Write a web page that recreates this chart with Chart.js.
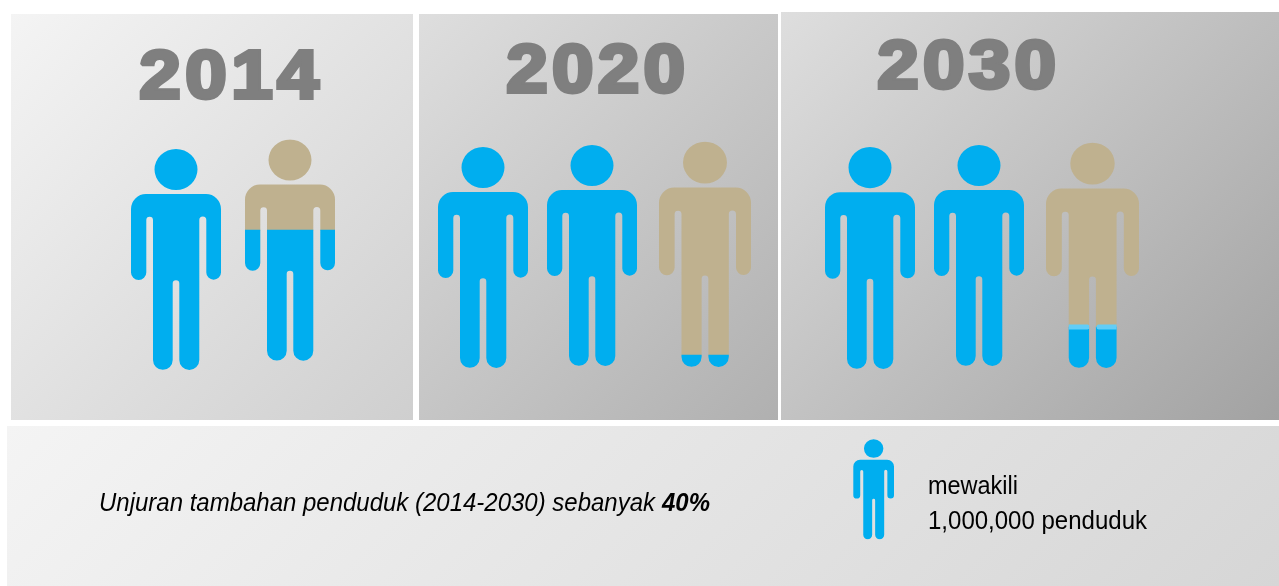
<!DOCTYPE html>
<html lang="id">
<head>
<meta charset="utf-8">
<title>Unjuran penduduk 2014-2030</title>
<style>html,body{margin:0;padding:0;background:#fff}canvas{display:block;filter:blur(0.35px)}</style>
<script src="https://cdn.jsdelivr.net/npm/chart.js@4"></script>
</head>
<body>
<canvas id="c" width="1279" height="586"></canvas>
<script>
// ---- data ----
const categories = ['2014', '2020', '2030'];
const figureLabels = ['2014 a', '2014 b', '2020 a', '2020 b', '2020 c', '2030 a', '2030 b', '2030 c', 'skala'];
const filledShare = [1, 0.59, 1, 1, 0.053, 1, 1, 0.182, 1];
const emptyShare = [0, 0.41, 0, 0, 0.947, 0, 0, 0.818, 0];
const noteText = 'Unjuran tambahan penduduk (2014-2030) sebanyak';
const noteValue = '40%';
const keyLines = ['mewakili', '1,000,000 penduduk'];

// ---- layout (image space) ----
const BLUE = '#00aeef', TAN = '#bfb18f', CAP = '#62cdf6', GREY = '#7f7f7f';
const boxes = [
  [131, 149, 90, 221], [245, 139.5, 90, 221.2],
  [438, 147, 90, 221], [547, 145, 90, 221], [659, 141.7, 92, 225.3],
  [825, 147, 90, 222], [934, 145, 90, 221], [1046, 142.7, 93, 225.3],
  [853.3, 439.3, 40.7, 100]
];
const cappedFigure = 7;
const panels = [
  [11, 14, 402, 406, '#f4f4f4', '#cfcfcf'],
  [419, 14, 359, 406, '#dedede', '#b0b0b0'],
  [781, 12, 498, 408, '#dedede', '#a2a2a2'],
  [7, 426, 1272, 160, '#f4f4f4', '#d6d6d6']
];
const titlePlaces = [[137, 321, 100], [504, 687, 94], [875, 1058, 89.5]];

function unitFigure() {
  const p = new Path2D(), PI = Math.PI;
  p.moveTo(15, 45); p.lineTo(75, 45);
  p.arc(75, 60, 15, -PI / 2, 0);
  p.lineTo(90, 123.4);
  p.arc(82.65, 123.4, 7.35, 0, PI);
  p.lineTo(75.3, 71);
  p.arc(71.8, 71, 3.5, 0, PI, true);
  p.lineTo(68.3, 211);
  p.arc(58.3, 211, 10, 0, PI);
  p.lineTo(48.3, 134.5);
  p.arc(45, 134.5, 3.3, 0, PI, true);
  p.lineTo(41.7, 211);
  p.arc(31.85, 211, 9.85, 0, PI);
  p.lineTo(22, 71);
  p.arc(18.65, 71, 3.35, 0, PI, true);
  p.lineTo(15.3, 123.4);
  p.arc(7.65, 123.4, 7.65, 0, PI);
  p.lineTo(0, 60);
  p.arc(15, 60, 15, PI, 1.5 * PI);
  p.closePath();
  p.moveTo(66.5, 20.5);
  p.ellipse(45, 20.5, 21.5, 20.5, 0, 0, 2 * PI);
  p.closePath();
  return p;
}

const boundary = i => boxes[i][1] + boxes[i][3] * (1 - filledShare[i]);
const cx = i => boxes[i][0] + boxes[i][2] / 2;

const silhouettes = {
  id: 'silhouettes',
  beforeDatasetDraw(chart) {
    const { x, y } = chart.scales, unit = unitFigure(), all = new Path2D();
    boxes.forEach(b => {
      const sx = (x.getPixelForValue(b[0] + b[2]) - x.getPixelForValue(b[0])) / 90;
      const sy = (y.getPixelForValue(b[1] + b[3]) - y.getPixelForValue(b[1])) / 221;
      all.addPath(unit, new DOMMatrix([sx, 0, 0, sy, x.getPixelForValue(b[0]), y.getPixelForValue(b[1])]));
    });
    chart.ctx.save();
    chart.ctx.clip(all);
  },
  afterDatasetDraw(chart) { chart.ctx.restore(); }
};

function fitText(ctx, text, left, right, base, font, color) {
  ctx.save();
  ctx.font = font; ctx.fillStyle = color; ctx.textAlign = 'left'; ctx.textBaseline = 'alphabetic';
  const k = (right - left) / ctx.measureText(text).width;
  ctx.translate(left, base); ctx.scale(k, 1);
  ctx.fillText(text, 0, 0);
  ctx.restore();
}

function heavyYear(ctx, text, left, right, base) {
  const cell = (right - left) / text.length;
  ctx.save();
  ctx.font = 'bold 69px "Liberation Sans"';
  ctx.fillStyle = GREY; ctx.strokeStyle = GREY; ctx.textAlign = 'center'; ctx.textBaseline = 'alphabetic';
  ctx.lineWidth = 4; ctx.lineJoin = 'miter'; ctx.miterLimit = 1.5;
  [...text].forEach((ch, i) => {
    ctx.save();
    ctx.translate(left + cell * (i + 0.5), base - 2);
    ctx.scale(1.08, 1);
    ctx.strokeText(ch, 0, 0);
    ctx.fillText(ch, 0, 0);
    ctx.restore();
  });
  ctx.restore();
}

const backdrop = {
  id: 'backdrop',
  beforeDatasetsDraw(chart) {
    const ctx = chart.ctx;
    panels.forEach(([x, y, w, h, a, b]) => {
      const half = (w + h) / 4, mx = x + w / 2, my = y + h / 2;
      const g = ctx.createLinearGradient(mx - half, my - half, mx + half, my + half);
      g.addColorStop(0, a); g.addColorStop(1, b);
      ctx.fillStyle = g; ctx.fillRect(x, y, w, h);
    });
    categories.forEach((t, i) => heavyYear(ctx, t, titlePlaces[i][0], titlePlaces[i][1], titlePlaces[i][2]));
    fitText(ctx, noteText, 99, 655, 511, 'italic 25px "Liberation Sans"', '#000');
    fitText(ctx, noteValue, 662, 710, 511, 'italic bold 25px "Liberation Sans"', '#000');
    fitText(ctx, keyLines[0], 928, 1018, 494, '25px "Liberation Sans"', '#000');
    fitText(ctx, keyLines[1], 928, 1147, 529, '25px "Liberation Sans"', '#000');
  }
};

new Chart(document.getElementById('c'), {
  type: 'bar',
  data: {
    datasets: [
      {
        label: 'Tepi',
        data: [0.345, 0.665].map(f => ({
          x: boxes[cappedFigure][0] + boxes[cappedFigure][2] * f,
          y: [boundary(cappedFigure) - 2.2, boundary(cappedFigure) + 2.2]
        })),
        backgroundColor: CAP, barThickness: 22, borderRadius: 8, borderSkipped: false, grouped: false
      },
      {
        label: 'Penduduk',
        data: filledShare.map((v, i) => ({ x: cx(i), y: [boundary(i), boxes[i][1] + boxes[i][3]] })),
        backgroundColor: BLUE, barThickness: 98, grouped: false
      },
      {
        label: 'Belum terisi',
        data: emptyShare.map((v, i) => v > 0 ? ({ x: cx(i), y: [boxes[i][1], boundary(i)] }) : ({ x: cx(i), y: null })),
        backgroundColor: TAN, barThickness: 98, grouped: false
      }
    ]
  },
  options: {
    responsive: false, animation: false, events: [],
    layout: { padding: 0 },
    plugins: { legend: { display: false }, tooltip: { enabled: false }, title: { display: false } },
    scales: {
      x: { type: 'linear', display: false, min: 0, max: 1279, offset: false },
      y: { type: 'linear', display: false, min: 0, max: 586, reverse: true }
    }
  },
  plugins: [backdrop, silhouettes]
});
</script>
</body>
</html>
